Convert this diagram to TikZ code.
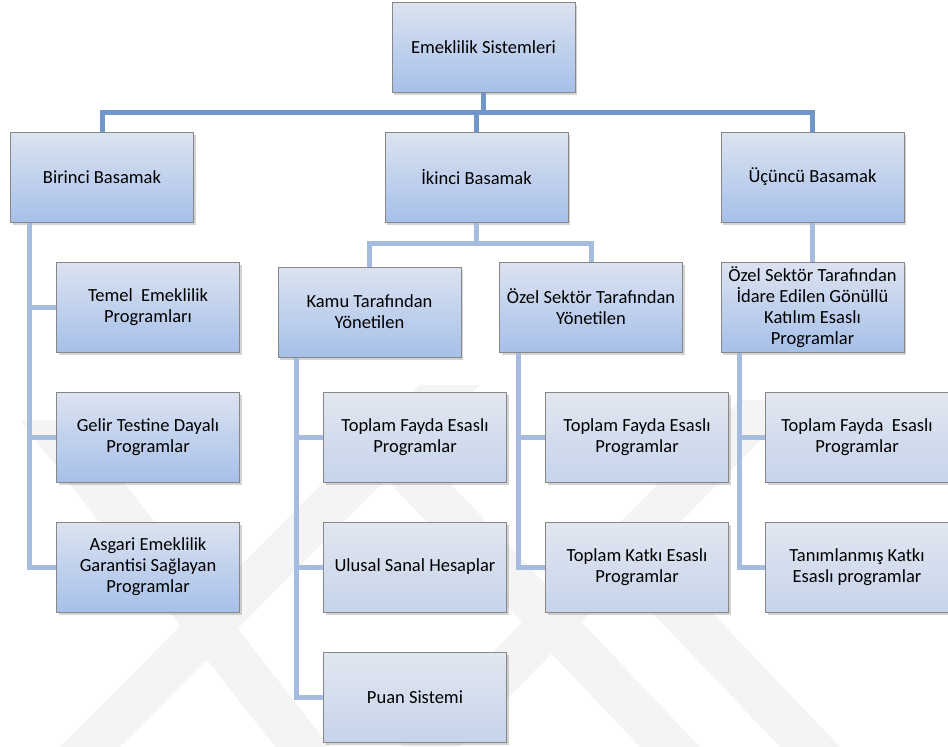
\documentclass[tikz,border=0pt]{standalone}
\usepackage{fontspec}
\setmainfont{Carlito}
\usetikzlibrary{shadows}
\definecolor{boxtop}{RGB}{220,227,240}
\definecolor{boxbot}{RGB}{166,192,233}
\definecolor{leaftop}{RGB}{226,231,240}
\definecolor{leafbot}{RGB}{198,211,235}
\definecolor{edge}{RGB}{135,135,135}
\definecolor{buscol}{RGB}{113,150,201}
\definecolor{linkcol}{RGB}{166,187,224}
\definecolor{wmgray}{RGB}{244,244,244}
\tikzset{
	box/.style={draw=edge, line width=1pt, top color=boxtop, bottom color=boxbot,
		minimum width=183pt, minimum height=90pt, inner sep=0pt, align=center,
		font=\fontsize{18.5}{21}\selectfont,
		drop shadow={shadow xshift=2pt, shadow yshift=-3pt, opacity=0.35, fill=gray}},
	leaf/.style={box, top color=leaftop, bottom color=leafbot},
	bus/.style={buscol, line width=5pt},
	link/.style={linkcol, line width=5pt}
}
\begin{document}
\begin{tikzpicture}[x=1pt, y=-1pt]
	\useasboundingbox (0,0) rectangle (948,747);
	% watermark
	\fill[wmgray] (20,420) -- (75,420) -- (330,747) -- (275,747) -- cycle;
	\fill[wmgray] (60,747) -- (120,747) -- (480,385) -- (420,385) -- cycle;
	\fill[wmgray] (400,747) -- (460,747) -- (800,400) -- (740,400) -- cycle;
	\fill[wmgray] (330,420) -- (390,420) -- (700,747) -- (640,747) -- cycle;
	\fill[wmgray] (640,600) -- (700,600) -- (840,747) -- (780,747) -- cycle;
	% top
	\node[box] (top) at (483.5,47) {Emeklilik Sistemleri};
	\node[box] (birinci) at (102,177) {Birinci Basamak};
	\node[box] (ikinci) at (476.5,177) {İkinci Basamak};
	\node[box] (ucuncu) at (812.5,177) {Üçüncü Basamak};
	% second level
	\node[box] (temel) at (148,307) {Temel~ Emeklilik\\Programları};
	\node[box] (gelir) at (148,437) {Gelir Testine Dayalı\\Programlar};
	\node[box] (asgari) at (148,567) {Asgari Emeklilik\\Garantisi Sağlayan\\Programlar};
	\node[box] (kamu) at (369.5,312) {Kamu Tarafından\\Yönetilen};
	\node[box] (ozel) at (591,307) {Özel Sektör Tarafından\\Yönetilen};
	\node[box] (gonullu) at (812.5,307) {Özel Sektör Tarafından\\İdare Edilen Gönüllü\\Katılım Esaslı\\Programlar};
	% leaves
	\node[leaf] (kamufayda) at (415,437) {Toplam Fayda Esaslı\\Programlar};
	\node[leaf] (ulusal) at (415,567) {Ulusal Sanal Hesaplar};
	\node[leaf] (puan) at (415,697) {Puan Sistemi};
	\node[leaf] (ozelfayda) at (637,437) {Toplam Fayda Esaslı\\Programlar};
	\node[leaf] (ozelkatki) at (637,567) {Toplam Katkı Esaslı\\Programlar};
	\node[leaf] (gonfayda) at (857,437) {Toplam Fayda~ Esaslı\\Programlar};
	\node[leaf] (gonkatki) at (857,567) {Tanımlanmış Katkı\\Esaslı programlar};
	% connectors
	\coordinate (hub) at ([yshift=-20pt]top.south);
	\coordinate (ikhub) at ([yshift=-21pt]ikinci.south);
	\coordinate (b1) at ([xshift=19pt]birinci.south west);
	\coordinate (k1) at ([xshift=19pt]kamu.south west);
	\coordinate (o1) at ([xshift=19pt]ozel.south west);
	\coordinate (g1) at ([xshift=19pt]gonullu.south west);
	\draw[bus] (top.south) -- (hub);
	\draw[bus] (birinci.north) |- (hub) -| (ucuncu.north);
	\draw[bus] (hub -| ikinci.north) -- (ikinci.north);
	\draw[link] (ikinci.south) -- (ikhub);
	\draw[link] (kamu.north) |- (ikhub) -| (ozel.north);
	\draw[link] (ucuncu.south) -- (gonullu.north);
	\draw[link] (b1) |- (asgari.west);
	\draw[link] (k1) |- (puan.west);
	\draw[link] (o1) |- (ozelkatki.west);
	\draw[link] (g1) |- (gonkatki.west);
	\foreach \n/\s in {temel/b1,gelir/b1,kamufayda/k1,ulusal/k1,ozelfayda/o1,gonfayda/g1}
		\draw[link] (\n.west) -- (\n.west -| \s);
\end{tikzpicture}
\end{document}
